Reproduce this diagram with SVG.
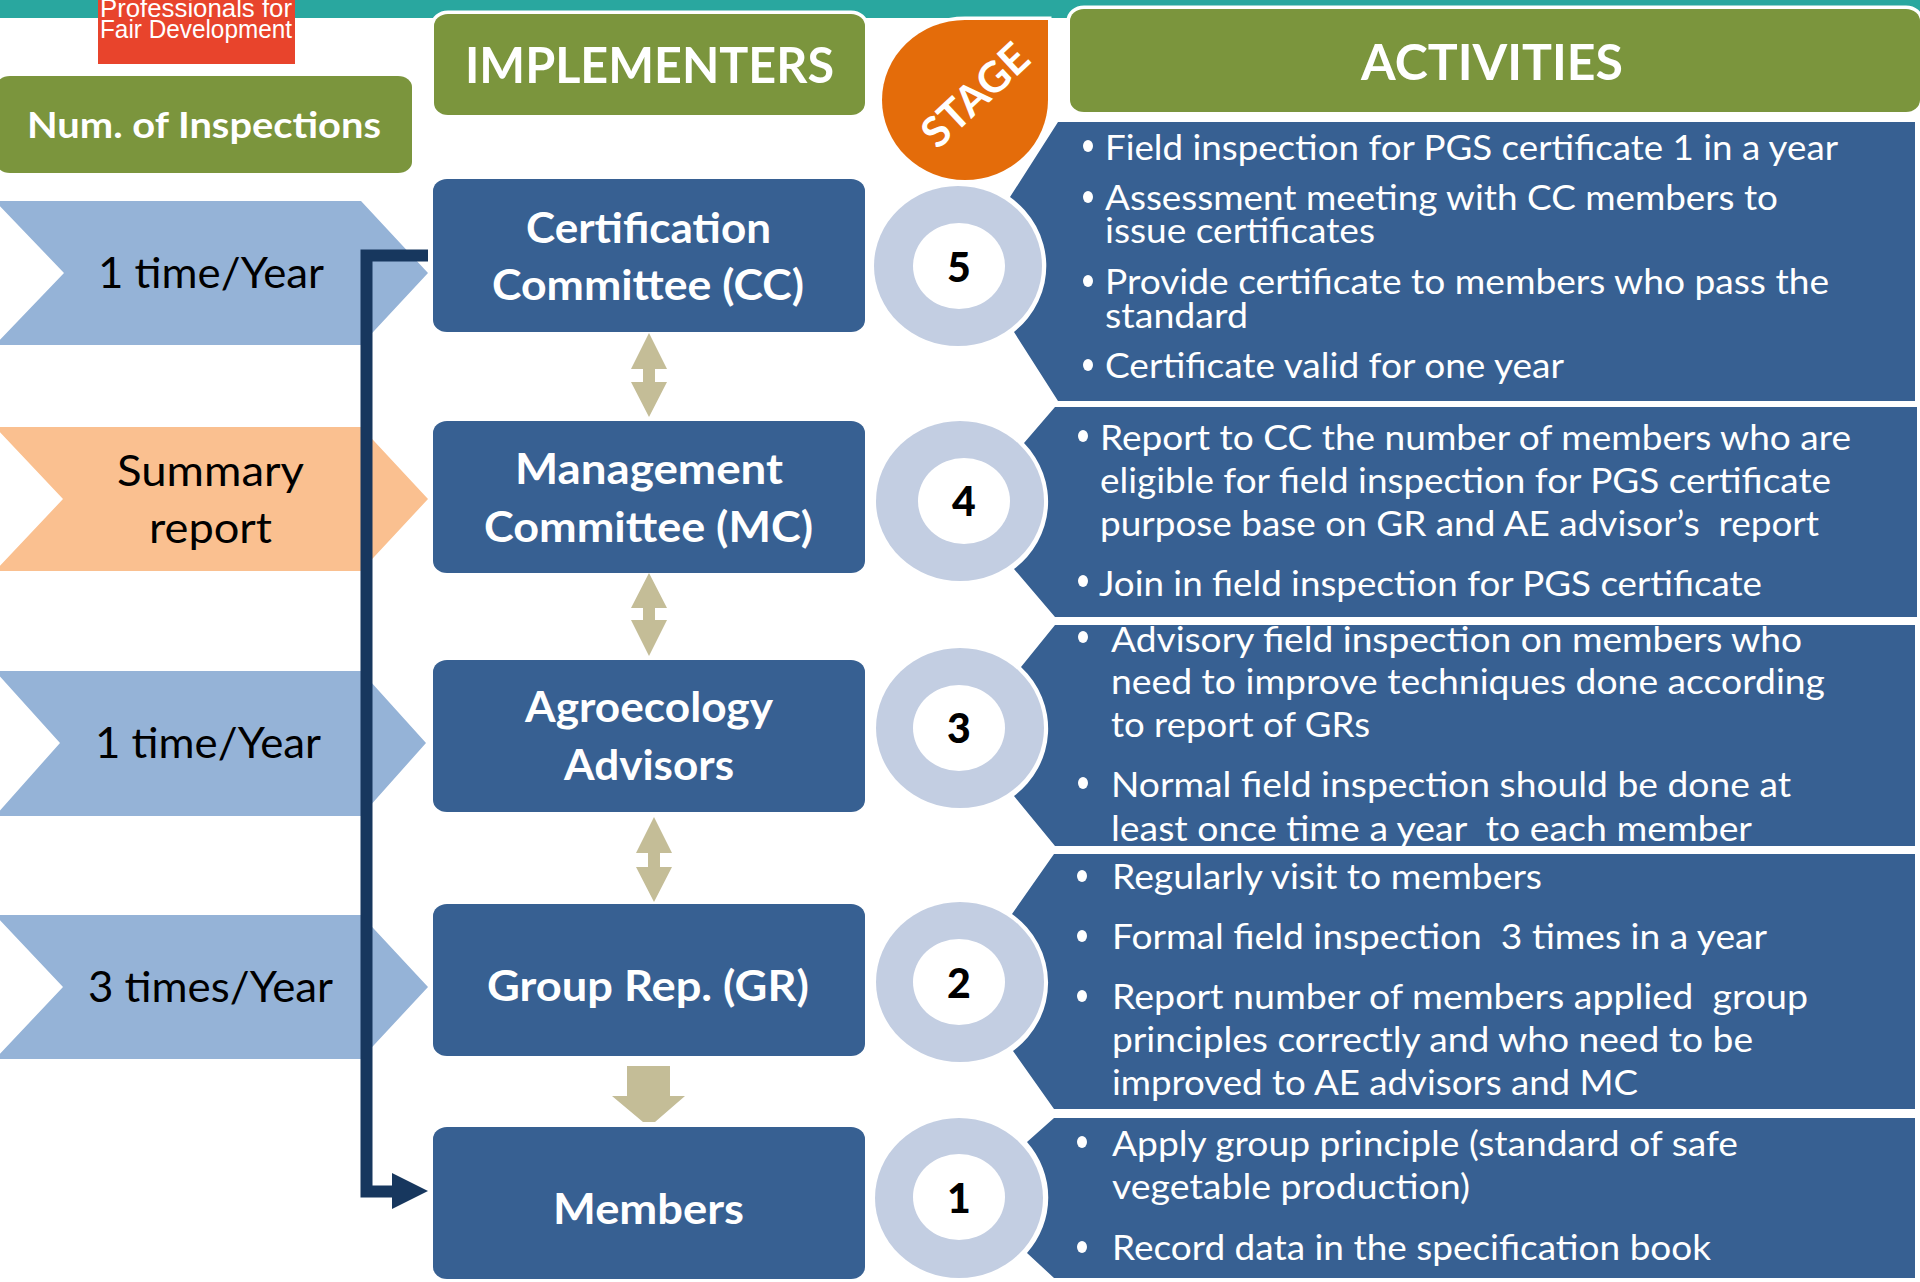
<svg xmlns="http://www.w3.org/2000/svg" width="1920" height="1282" viewBox="0 0 1920 1282">
<style>
text{font-family:Lato,"Open Sans","Liberation Sans",sans-serif}
.b{fill:#376092}.g{fill:#7B953D;stroke:#fff;stroke-width:7;paint-order:stroke}
.n{font-size:42px;font-weight:700;fill:#fff;text-anchor:start}
.h{font-size:49px;font-weight:700;fill:#fff}
.c{font-size:42px;fill:#000}
.a{font-size:34px;fill:#fff;white-space:pre}
.t{fill:#C4BD97}.r{fill:#C3CEE2}.w{fill:#fff}
.num{font-size:41px;font-weight:900;fill:#000;text-anchor:middle}
</style>
<rect width="1920" height="1282" fill="#fff"/>
<g id="topbar"><rect width="1920" height="18" fill="#29A79F"/></g>
<g id="logo"><rect x="98" y="0" width="197" height="64" fill="#E8442C"/>
<text x="100" y="17" font-size="25" fill="#fff" style="font-family:'Liberation Sans',sans-serif" textLength="192" lengthAdjust="spacingAndGlyphs">Professionals for</text>
<text x="100" y="38" font-size="25" fill="#fff" style="font-family:'Liberation Sans',sans-serif" textLength="192" lengthAdjust="spacingAndGlyphs">Fair Development</text></g>

<g id="head-inspections"><rect x="-4" y="76" width="416" height="97" rx="14" ry="11" fill="#7B953D"/>
<text x="27" y="138" font-size="36" font-weight="700" fill="#fff" textLength="354" lengthAdjust="spacingAndGlyphs">Num. of Inspections</text></g>
<g id="head-implementers"><rect class="g" x="434" y="14" width="431" height="101" rx="14" ry="12"/>
<text class="h" x="465" y="83" textLength="369" lengthAdjust="spacingAndGlyphs">IMPLEMENTERS</text></g>
<g id="head-stage"><path d="M1048 20V100A83 80 0 1 1 965 20Z" fill="#E46C0A" stroke="#fff" stroke-width="7" style="paint-order:stroke"/>
<text transform="translate(975 95) rotate(-43)" text-anchor="middle" y="15" font-size="42" font-weight="700" fill="#fff" textLength="130" lengthAdjust="spacingAndGlyphs">STAGE</text></g>
<g id="head-activities"><rect class="g" x="1070" y="9" width="850" height="103" rx="14" ry="12"/>
<text class="h" x="1361" y="80" textLength="262" lengthAdjust="spacingAndGlyphs">ACTIVITIES</text></g>

<g id="freq-1"><polygon points="-5,201 361,201 428,273 361,345 -5,345 64,273" fill="#95B3D7"/>
<text class="c" x="98" y="288" textLength="226" lengthAdjust="spacingAndGlyphs">1 time/Year</text></g>
<g id="freq-2"><polygon points="-5,427 361,427 428,499 361,571 -5,571 63,499" fill="#FAC090"/>
<text class="c" x="117" y="486" textLength="187" lengthAdjust="spacingAndGlyphs">Summary</text>
<text class="c" x="149" y="543" textLength="123" lengthAdjust="spacingAndGlyphs">report</text></g>
<g id="freq-3"><polygon points="-5,671 361,671 426,743 361,816 -5,816 60,743" fill="#95B3D7"/>
<text class="c" x="95" y="758" textLength="226" lengthAdjust="spacingAndGlyphs">1 time/Year</text></g>
<g id="freq-4"><polygon points="-5,915 361,915 428,987 361,1059 -5,1059 63,987" fill="#95B3D7"/>
<text class="c" x="88" y="1002" textLength="245" lengthAdjust="spacingAndGlyphs">3 times/Year</text></g>

<g id="connectors">
<path d="M428 255.500H366.500V1191.500H396" fill="none" stroke="#17375E" stroke-width="12"/>
<polygon points="392,1173 428,1191 392,1209" fill="#17375E"/>
<polygon class="t" points="649,333 667,369 655,369 655,382 667,382 649,417 631,382 643,382 643,369 631,369"/>
<polygon class="t" points="649,573 667,608 655,608 655,620 667,620 649,656 631,620 643,620 643,608 631,608"/>
<polygon class="t" points="654,817 672,853 660,853 660,867 672,867 654,902 636,867 648,867 648,853 636,853"/>
<polygon class="t" points="627,1066 670,1066 670,1096 685,1096 655,1122 643,1122 612,1096 627,1096"/>
</g>

<g id="node-cc"><rect class="b" x="433" y="179" width="432" height="153" rx="14" ry="12"/>
<text class="n" x="526" y="243" textLength="245" lengthAdjust="spacingAndGlyphs">Certification</text>
<text class="n" x="492" y="300" textLength="312" lengthAdjust="spacingAndGlyphs">Committee (CC)</text></g>
<g id="node-mc"><rect class="b" x="433" y="421" width="432" height="152" rx="14" ry="12"/>
<text class="n" x="515" y="484" textLength="268" lengthAdjust="spacingAndGlyphs">Management</text>
<text class="n" x="484" y="542" textLength="329" lengthAdjust="spacingAndGlyphs">Committee (MC)</text></g>
<g id="node-ae"><rect class="b" x="433" y="660" width="432" height="152" rx="14" ry="12"/>
<text class="n" x="525" y="722" textLength="248" lengthAdjust="spacingAndGlyphs">Agroecology</text>
<text class="n" x="564" y="780" textLength="170" lengthAdjust="spacingAndGlyphs">Advisors</text></g>
<g id="node-gr"><rect class="b" x="433" y="904" width="432" height="152" rx="14" ry="12"/>
<text class="n" x="487" y="1001" textLength="322" lengthAdjust="spacingAndGlyphs">Group Rep. (GR)</text></g>
<g id="node-members"><rect class="b" x="433" y="1127" width="432" height="152" rx="14" ry="12"/>
<text class="n" x="553" y="1224" textLength="191" lengthAdjust="spacingAndGlyphs">Members</text></g>

<g id="activity-5"><path class="b" d="M1058 122H1915V401H1058L1014 332A90 86 0 0 0 1010 197Z"/>
<g class="w"><ellipse cx="1088" cy="146" rx="5" ry="6"/><ellipse cx="1088" cy="197" rx="5" ry="6"/><ellipse cx="1088" cy="281" rx="5" ry="6"/><ellipse cx="1088" cy="365" rx="5" ry="6"/></g>
<text class="a" x="1105" y="160" textLength="733" lengthAdjust="spacingAndGlyphs">Field inspection for PGS certificate 1 in a year</text>
<text class="a" x="1105" y="210" textLength="673" lengthAdjust="spacingAndGlyphs">Assessment meeting with CC members to</text>
<text class="a" x="1105" y="243" textLength="270" lengthAdjust="spacingAndGlyphs">issue certificates</text>
<text class="a" x="1105" y="294" textLength="724" lengthAdjust="spacingAndGlyphs">Provide certificate to members who pass the</text>
<text class="a" x="1105" y="328" textLength="143" lengthAdjust="spacingAndGlyphs">standard</text>
<text class="a" x="1105" y="378" textLength="459" lengthAdjust="spacingAndGlyphs">Certificate valid for one year</text></g>

<g id="activity-4"><path class="b" d="M1055 407H1917V617H1055L1014 569A90 86 0 0 0 1024 443Z"/>
<g class="w"><ellipse cx="1083" cy="436" rx="5" ry="6"/><ellipse cx="1083" cy="581" rx="5" ry="6"/></g>
<text class="a" x="1100" y="450" textLength="751" lengthAdjust="spacingAndGlyphs">Report to CC the number of members who are</text>
<text class="a" x="1100" y="493" textLength="731" lengthAdjust="spacingAndGlyphs">eligible for field inspection for PGS certificate</text>
<text class="a" x="1100" y="536" textLength="719" lengthAdjust="spacingAndGlyphs">purpose base on GR and AE advisor’s  report</text>
<text class="a" x="1099" y="596" textLength="663" lengthAdjust="spacingAndGlyphs">Join in field inspection for PGS certificate</text></g>

<g id="activity-3"><path class="b" d="M1055 625H1915V846H1055L1014 796A90 86 0 0 0 1021 667Z"/>
<g class="w"><ellipse cx="1083" cy="637" rx="5" ry="6"/><ellipse cx="1083" cy="783" rx="5" ry="6"/></g>
<text class="a" x="1111" y="652" textLength="691" lengthAdjust="spacingAndGlyphs">Advisory field inspection on members who</text>
<text class="a" x="1111" y="694" textLength="714" lengthAdjust="spacingAndGlyphs">need to improve techniques done according</text>
<text class="a" x="1111" y="737" textLength="259" lengthAdjust="spacingAndGlyphs">to report of GRs</text>
<text class="a" x="1111" y="797" textLength="680" lengthAdjust="spacingAndGlyphs">Normal field inspection should be done at</text>
<text class="a" x="1111" y="841" textLength="641" lengthAdjust="spacingAndGlyphs">least once time a year  to each member</text></g>

<g id="activity-2"><path class="b" d="M1054 854H1915V1109H1054L1013 1051A90 86 0 0 0 1012 914Z"/>
<g class="w"><ellipse cx="1082" cy="876" rx="5" ry="6"/><ellipse cx="1082" cy="936" rx="5" ry="6"/><ellipse cx="1082" cy="996" rx="5" ry="6"/></g>
<text class="a" x="1112" y="889" textLength="430" lengthAdjust="spacingAndGlyphs">Regularly visit to members</text>
<text class="a" x="1112" y="949" textLength="655" lengthAdjust="spacingAndGlyphs">Formal field inspection  3 times in a year</text>
<text class="a" x="1112" y="1009" textLength="696" lengthAdjust="spacingAndGlyphs">Report number of members applied  group</text>
<text class="a" x="1112" y="1052" textLength="641" lengthAdjust="spacingAndGlyphs">principles correctly and who need to be</text>
<text class="a" x="1112" y="1095" textLength="526" lengthAdjust="spacingAndGlyphs">improved to AE advisors and MC</text></g>

<g id="activity-1"><path class="b" d="M1054 1118H1915V1278H1054L1027 1253A90 86 0 0 0 1027 1142Z"/>
<g class="w"><ellipse cx="1082" cy="1142" rx="5" ry="6"/><ellipse cx="1082" cy="1247" rx="5" ry="6"/></g>
<text class="a" x="1112" y="1156" textLength="626" lengthAdjust="spacingAndGlyphs">Apply group principle (standard of safe</text>
<text class="a" x="1112" y="1199" textLength="358" lengthAdjust="spacingAndGlyphs">vegetable production)</text>
<text class="a" x="1112" y="1260" textLength="599" lengthAdjust="spacingAndGlyphs">Record data in the specification book</text></g>

<g id="stage-5"><ellipse class="r" cx="958" cy="266" rx="84" ry="80"/><ellipse class="w" cx="959" cy="266" rx="46" ry="43"/><text class="num" x="959" y="282">5</text></g>
<g id="stage-4"><ellipse class="r" cx="960" cy="501" rx="84" ry="80"/><ellipse class="w" cx="964" cy="501" rx="46" ry="43"/><text class="num" x="964" y="516">4</text></g>
<g id="stage-3"><ellipse class="r" cx="960" cy="728" rx="84" ry="80"/><ellipse class="w" cx="959" cy="728" rx="46" ry="43"/><text class="num" x="959" y="743">3</text></g>
<g id="stage-2"><ellipse class="r" cx="960" cy="982" rx="84" ry="80"/><ellipse class="w" cx="959" cy="982" rx="46" ry="43"/><text class="num" x="959" y="998">2</text></g>
<g id="stage-1"><ellipse class="r" cx="959" cy="1198" rx="84" ry="80"/><ellipse class="w" cx="959" cy="1197" rx="46" ry="43"/><text class="num" x="959" y="1213">1</text></g>
</svg>
